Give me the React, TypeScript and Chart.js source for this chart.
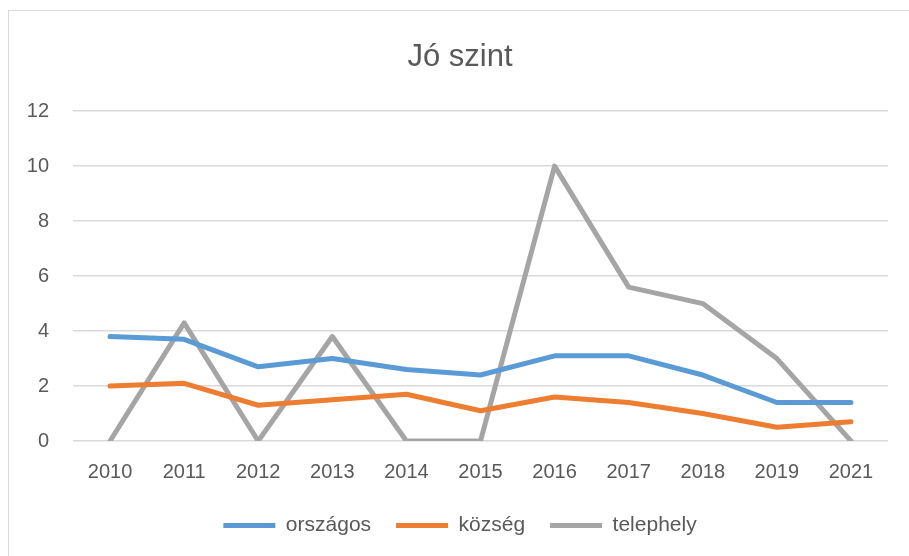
import React, { useEffect, useRef } from "react";
import { Chart, registerables } from "chart.js";

Chart.register(...registerables);

const categories = ["2010", "2011", "2012", "2013", "2014", "2015", "2016", "2017", "2018", "2019", "2021"];
const orszagos = [3.8, 3.7, 2.7, 3.0, 2.6, 2.4, 3.1, 3.1, 2.4, 1.4, 1.4];
const kozseg = [2.0, 2.1, 1.3, 1.5, 1.7, 1.1, 1.6, 1.4, 1.0, 0.5, 0.7];
const telephely = [0, 4.3, 0, 3.8, 0, 0, 10, 5.6, 5.0, 3.0, 0];
const seriesNames = ["országos", "község", "telephely"];
const seriesColors = ["#5b9bd5", "#ed7d31", "#a5a5a5"];
const titleText = "Jó szint";

const FONT = "'Liberation Sans', Arial, sans-serif";

export default function App() {
  const ref = useRef<HTMLCanvasElement>(null);
  useEffect(() => {
    if (!ref.current) return;
    const values = [orszagos, kozseg, telephely];
    const chart = new Chart(ref.current, {
      type: "line",
      data: {
        labels: categories,
        datasets: values.map((v, i) => ({
          label: seriesNames[i],
          data: v,
          borderColor: seriesColors[i],
          backgroundColor: seriesColors[i],
          borderWidth: 5,
          pointRadius: 0,
          pointHoverRadius: 0,
          tension: 0,
          borderCapStyle: "round" as const,
          borderJoinStyle: "round" as const,
        })),
      },
      options: {
        animation: false,
        responsive: false,
        maintainAspectRatio: false,
        layout: { padding: { left: 0, right: 0, top: 0, bottom: 10 } },
        plugins: {
          title: {
            display: true,
            text: titleText,
            color: "#595959",
            font: { family: FONT, size: 31, weight: "normal" },
            padding: { top: 28, bottom: 35 },
          },
          legend: {
            position: "bottom",
            labels: {
              usePointStyle: true,
              pointStyle: "line",
              pointStyleWidth: 52,
              color: "#595959",
              font: { family: FONT, size: 21 },
              padding: 25,
            },
          },
          tooltip: { enabled: false },
        },
        scales: {
          x: {
            offset: true,
            grid: { display: false, drawTicks: false },
            border: { display: false },
            ticks: { color: "#595959", font: { family: FONT, size: 20 }, padding: 19, maxRotation: 0 },
            afterFit: (s: any) => {
              s.height = 49;
            },
          },
          y: {
            min: 0,
            max: 12,
            grid: { color: "#d9d9d9", lineWidth: 1.5, drawTicks: false },
            border: { display: false },
            ticks: { stepSize: 2, color: "#595959", font: { family: FONT, size: 20 }, padding: 24 },
            afterFit: (s: any) => {
              s.width = 64;
            },
          },
          yRightSpace: {
            position: "right",
            display: true,
            grid: { display: false, drawTicks: false },
            border: { display: false },
            ticks: { display: false },
            afterFit: (s: any) => {
              s.width = 23;
            },
          },
        },
      },
    });
    return () => chart.destroy();
  }, []);
  return (
    <div
      style={{
        position: "absolute",
        left: 8,
        top: 10,
        width: 920,
        height: 560,
        border: "1px solid #d9d9d9",
        background: "#fff",
      }}
    >
      <canvas ref={ref} width={902} height={545} style={{ display: "block" }} />
    </div>
  );
}
